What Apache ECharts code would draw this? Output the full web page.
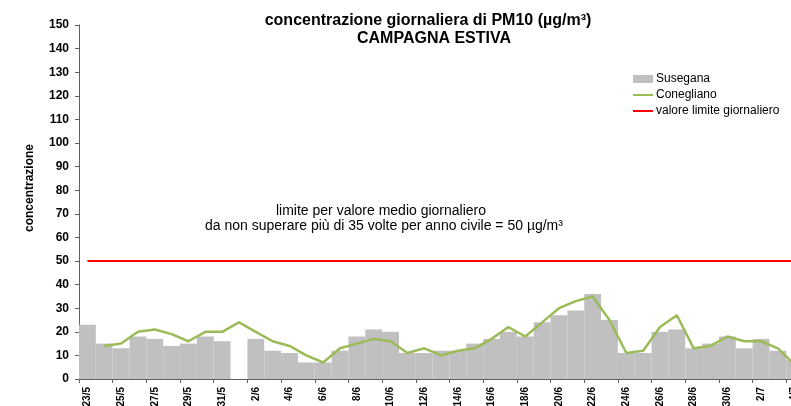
<!DOCTYPE html>
<html><head><meta charset="utf-8">
<script src="https://cdn.jsdelivr.net/npm/echarts@6/dist/echarts.min.js"></script>
<style>html,body{margin:0;padding:0;background:#fff}#c{width:791px;height:406px}</style>
</head><body><div id="c"></div>
<script>
const categories = ['23/5','24/5','25/5','26/5','27/5','28/5','29/5','30/5','31/5',
  '1/6','2/6','3/6','4/6','5/6','6/6','7/6','8/6','9/6','10/6',
  '11/6','12/6','13/6','14/6','15/6','16/6','17/6','18/6','19/6','20/6',
  '21/6','22/6','23/6','24/6','25/6','26/6','27/6','28/6','29/6','30/6',
  '1/7','2/7','3/7','4/7','5/7'];
const susegana = [23,15,13,18,17,14,15,18,16,
  null,17,12,11,7,7,12,18,21,20,
  11,11,12,12,15,17,20,18,24,27,
  29,36,25,11,11,20,21,13,15,18,
  13,17,12,8,null];
const conegliano = [null,14,15,20,21,19,16,20,20,
  24,20,16,14,10,7,13,15,17,16,
  11,13,10,12,13,17,22,18,24,30,
  33,35,25,11,12,22,27,13,14,18,
  16,16,13,6,null];
const LIMIT = 50;
const limitValues = categories.map(() => LIMIT);
const yTicks = {min: 0, max: 150, interval: 10};

const FONT = 'Liberation Sans, Arial, sans-serif';
const lineIcon = 'path://M0,0h20v2h-20z';
const chart = echarts.init(document.getElementById('c'));
chart.setOption({
  animation: false,
  textStyle: {fontFamily: FONT},
  grid: {left: 79, top: 25, bottom: 27, width: 741, containLabel: false, outerBoundsMode: 'none'},
  legend: {
    orient: 'vertical', left: 628, top: 68, itemGap: 4,
    itemWidth: 20, itemHeight: 8,
    textStyle: {fontSize: 12, color: '#000', fontFamily: FONT, padding: [0, 0, 0, -2]},
    data: [{name: 'Susegana', icon: 'rect'},
           {name: 'Conegliano', icon: lineIcon},
           {name: 'valore limite giornaliero', icon: lineIcon}]
  },
  xAxis: {
    type: 'category', data: categories, boundaryGap: true,
    axisLine: {lineStyle: {color: '#606060', width: 1}},
    axisTick: {show: true, interval: 1, length: 4, lineStyle: {color: '#606060'}},
    axisLabel: {interval: 1, rotate: 90, fontSize: 10, fontWeight: 'bold', color: '#000', margin: 8, fontFamily: FONT}
  },
  yAxis: {
    type: 'value', min: yTicks.min, max: yTicks.max, interval: yTicks.interval,
    axisLine: {show: true, lineStyle: {color: '#606060', width: 1}},
    axisTick: {show: true, length: 4, lineStyle: {color: '#606060'}},
    splitLine: {show: false},
    axisLabel: {fontSize: 12, fontWeight: 'bold', color: '#000', margin: 10, fontFamily: FONT}
  },
  series: [
    {name: 'Susegana', type: 'bar', data: susegana, barCategoryGap: '0%', barWidth: '100%',
     itemStyle: {color: '#c0c0c0'}, z: 1},
    {name: 'Conegliano', type: 'line', data: conegliano, symbol: 'none', showSymbol: false, connectNulls: false,
     lineStyle: {color: '#9bbb59', width: 2.5}, itemStyle: {color: '#9bbb59'}, z: 3},
    {name: 'valore limite giornaliero', type: 'line', data: limitValues, symbol: 'none', showSymbol: false,
     lineStyle: {color: '#ff0000', width: 2}, itemStyle: {color: '#ff0000'}, z: 2}
  ],
  graphic: [
    {type: 'text', x: 428, y: 21, style: {text: 'concentrazione giornaliera di PM10 (µg/m³)', font: 'bold 16px ' + FONT, fill: '#000', textAlign: 'center', textVerticalAlign: 'middle'}},
    {type: 'text', x: 434, y: 39, style: {text: 'CAMPAGNA ESTIVA', font: 'bold 16px ' + FONT, fill: '#000', textAlign: 'center', textVerticalAlign: 'middle'}},
    {type: 'text', x: 381, y: 211, style: {text: 'limite per valore medio giornaliero', font: '14px ' + FONT, fill: '#000', textAlign: 'center', textVerticalAlign: 'middle'}},
    {type: 'text', x: 384, y: 226, style: {text: 'da non superare più di 35 volte per anno civile = 50 µg/m³', font: '14px ' + FONT, fill: '#000', textAlign: 'center', textVerticalAlign: 'middle'}},
    {type: 'text', x: 30, y: 188, rotation: Math.PI / 2, style: {text: 'concentrazione', font: 'bold 12px ' + FONT, fill: '#000', textAlign: 'center', textVerticalAlign: 'middle'}}
  ]
});
</script></body></html>
